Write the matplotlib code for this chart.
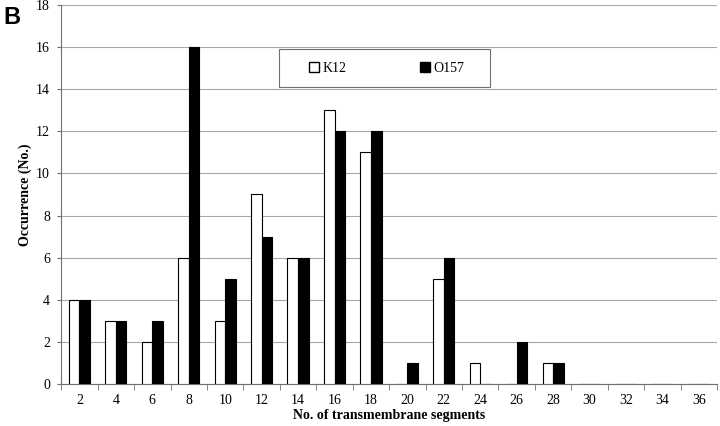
import numpy as np
import matplotlib.pyplot as plt
from matplotlib.patches import Patch, Rectangle

segments = [2, 4, 6, 8, 10, 12, 14, 16, 18, 20, 22, 24, 26, 28, 30, 32, 34, 36]
k12 = [4, 3, 2, 6, 3, 9, 6, 13, 11, 0, 5, 1, 0, 1, 0, 0, 0, 0]
o157 = [4, 3, 3, 16, 5, 7, 6, 12, 12, 1, 6, 0, 2, 1, 0, 0, 0, 0]

plt.rcParams['font.family'] = ['Liberation Serif', 'DejaVu Serif']

fig = plt.figure(figsize=(7.2, 4.26), dpi=100)
ax = fig.add_axes([0.085, 0.099, 0.911, 0.889])

x = np.arange(len(segments))
w = 0.29
ax.bar(x - w / 2, k12, width=w, color='white', edgecolor='black', linewidth=0.8, zorder=3)
ax.bar(x + w / 2, o157, width=w, color='black', edgecolor='black', linewidth=0.8, zorder=3)

ax.set_xlim(-0.5, len(segments) - 0.5)
ax.set_ylim(0, 18)
ax.set_yticks(range(0, 19, 2))
ax.yaxis.grid(True, color='#a8a8a8', linewidth=0.8, zorder=0)
ax.set_xticks(x)
ax.set_xticklabels(segments)
ax.set_xticks(np.arange(-0.5, len(segments), 1), minor=True)
ax.tick_params(axis='x', which='major', length=0, pad=7, labelsize=10)
ax.tick_params(axis='x', which='minor', length=4, color='#707070')
ax.tick_params(axis='y', length=3, color='#707070', labelsize=10, pad=5)

for s in ['top', 'right']:
    ax.spines[s].set_visible(False)
for s in ['left', 'bottom']:
    ax.spines[s].set_color('#707070')

ax.set_xlabel('No. of transmembrane segments', fontweight='bold', fontsize=10, labelpad=2)
ax.set_ylabel('Occurrence (No.)', fontweight='bold', fontsize=10, labelpad=3)

# legend frame drawn separately
fig.patches.append(Rectangle((0.3875, 0.796), 0.293, 0.089, transform=fig.transFigure,
                             facecolor='white', edgecolor='#707070', linewidth=0.8, zorder=4))
handles = [Patch(facecolor='white', edgecolor='black', label='K12'),
           Patch(facecolor='black', edgecolor='black', label='O157')]
fig.legend(handles=handles, ncol=2, loc='center', bbox_to_anchor=(0.537, 0.840),
           frameon=False, fontsize=10, handlelength=0.7, handleheight=0.7,
           handletextpad=0.25, columnspacing=5.3)

fig.text(0.005, 0.985, 'B', fontsize=17, fontweight='bold', family='Liberation Sans', va='top')

fig.savefig('out.png', dpi=100)
